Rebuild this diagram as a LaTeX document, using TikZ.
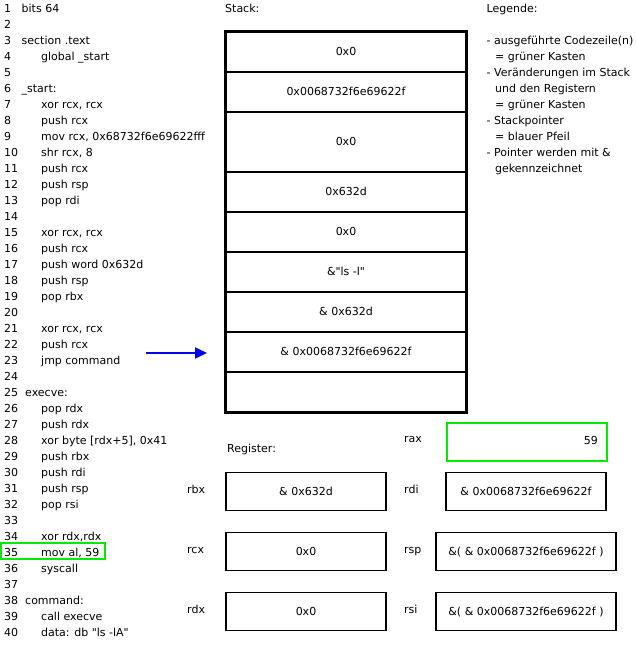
\documentclass[tikz,border=0pt]{standalone}
\usepackage{fontspec}
\setmainfont{DejaVu Sans}[Ligatures=TeXOff]
\usetikzlibrary{arrows.meta}
\definecolor{hlgreen}{RGB}{0,235,0}
\definecolor{ptrblue}{RGB}{0,0,240}
\begin{document}
\begin{tikzpicture}[x=1pt,y=-1pt,
  font=\fontsize{11}{13}\selectfont,
  txt/.style={anchor=base west,inner sep=0pt},
  txtr/.style={anchor=base east,inner sep=0pt},
  cell/.style={draw=black,line width=1.5pt,minimum width=240pt,inner sep=0pt,text height=8pt,text depth=1pt},
  reg/.style={draw=black,line width=1.8pt,minimum height=38pt,inner sep=0pt,text height=8pt,text depth=1pt},
  hlbox/.style={draw=hlgreen,line width=1.8pt,inner sep=0pt}]
\useasboundingbox (0,0) rectangle (636,655);
\clip (0,0) rectangle (636,655);
% line numbers
\foreach \n in {1,...,40}{
  \node[txt] (num\n) at (4,{12.8+16*(\n-1)}) {\n};
}
% code text
\node[txt] (c1) at (21.5,12.8) {bits 64};
\node[txt] (c3) at (21.5,44.8) {section .text};
\node[txt] (c4) at (41,60.8) {global \_start};
\node[txt] (c6) at (21.5,92.8) {\_start:};
\node[txt] (c7) at (41,108.8) {xor rcx, rcx};
\node[txt] (c8) at (41,124.8) {push rcx};
\node[txt] (c9) at (41,140.8) {mov rcx, 0x68732f6e69622fff};
\node[txt] (c10) at (41,156.8) {shr rcx, 8};
\node[txt] (c11) at (41,172.8) {push rcx};
\node[txt] (c12) at (41,188.8) {push rsp};
\node[txt] (c13) at (41,204.8) {pop rdi};
\node[txt] (c15) at (41,236.8) {xor rcx, rcx};
\node[txt] (c16) at (41,252.8) {push rcx};
\node[txt] (c17) at (41,268.8) {push word 0x632d};
\node[txt] (c18) at (41,284.8) {push rsp};
\node[txt] (c19) at (41,300.8) {pop rbx};
\node[txt] (c21) at (41,332.8) {xor rcx, rcx};
\node[txt] (c22) at (41,348.8) {push rcx};
\node[txt] (c23) at (41,364.8) {jmp command};
\node[txt] (c25) at (25,396.8) {execve:};
\node[txt] (c26) at (41,412.8) {pop rdx};
\node[txt] (c27) at (41,428.8) {push rdx};
\node[txt] (c28) at (41,444.8) {xor byte [rdx+5], 0x41};
\node[txt] (c29) at (41,460.8) {push rbx};
\node[txt] (c30) at (41,476.8) {push rdi};
\node[txt] (c31) at (41,492.8) {push rsp};
\node[txt] (c32) at (41,508.8) {pop rsi};
\node[txt] (c34) at (41,540.8) {xor rdx,rdx};
\node[txt] (c35) at (41,556.8) {mov al, 59};
\node[txt] (c36) at (41,572.8) {syscall};
\node[txt] (c38) at (25,604.8) {command:};
\node[txt] (c39) at (41,620.8) {call execve};
\node[txt] (c40) at (41,636.8) {data: db "ls -lA"};
% highlight of executed line
\node[hlbox,minimum width=104pt,minimum height=16pt] (hl) at (53,551) {};
% stack
\node[txt] (stacktitle) at (225,12.8) {Stack:};
\node[cell,minimum height=40pt] (s1) at (346,52) {0x0};
\node[cell,minimum height=40pt] (s2) at (346,92) {0x0068732f6e69622f};
\node[cell,minimum height=60pt] (s3) at (346,142) {0x0};
\node[cell,minimum height=40pt] (s4) at (346,192) {0x632d};
\node[cell,minimum height=40pt] (s5) at (346,232) {0x0};
\node[cell,minimum height=40pt] (s6) at (346,272) {\&"ls -l"};
\node[cell,minimum height=40pt] (s7) at (346,312) {\& 0x632d};
\node[cell,minimum height=40pt] (s8) at (346,352) {\& 0x0068732f6e69622f};
\node[cell,minimum height=40pt] (s9) at (346,392) {};
\draw[line width=2pt] (s1.north west) rectangle (s9.south east);
% stack pointer arrow
\coordinate (spA) at (146,353);
\coordinate (spB) at (207,353);
\draw[ptrblue,line width=2pt,-{Triangle[length=12pt,width=11pt]}] (spA) -- (spB);
% legend
\node[txt] (leg0) at (486.5,12.8) {Legende:};
\node[txt] (leg1) at (486.5,44.8) {- ausgeführte Codezeile(n)};
\node[txt] (leg2) at (495,60.8) {= grüner Kasten};
\node[txt] (leg3) at (486.5,76.8) {- Veränderungen im Stack};
\node[txt] (leg4) at (495,92.8) {und den Registern};
\node[txt] (leg5) at (495,108.8) {= grüner Kasten};
\node[txt] (leg6) at (486.5,124.8) {- Stackpointer};
\node[txt] (leg7) at (495,140.8) {= blauer Pfeil};
\node[txt] (leg8) at (486.5,156.8) {- Pointer werden mit \&};
\node[txt] (leg9) at (495,172.8) {gekennzeichnet};
% registers
\node[txt] (regtitle) at (227,452) {Register:};
\node[reg,draw=hlgreen,minimum width=160pt] (rax) at (527,442) {};
\node[txtr] (raxval) at (598,444.5) {59};
\node[txt] (raxl) at (404,442) {rax};
\node[reg,minimum width=160pt] (rbx) at (306,491.5) {\& 0x632d};
\node[txt] (rbxl) at (187,493.5) {rbx};
\node[reg,minimum width=160pt] (rdi) at (526,491.5) {\& 0x0068732f6e69622f};
\node[txt] (rdil) at (404,493.5) {rdi};
\node[reg,minimum width=160pt] (rcx) at (306,551.5) {0x0};
\node[txt] (rcxl) at (187,553.5) {rcx};
\node[reg,minimum width=180pt] (rsp) at (526,551.5) {\&( \& 0x0068732f6e69622f )};
\node[txt] (rspl) at (404,553.5) {rsp};
\node[reg,minimum width=160pt] (rdx) at (306,611.5) {0x0};
\node[txt] (rdxl) at (187,613.5) {rdx};
\node[reg,minimum width=180pt] (rsi) at (526,611.5) {\&( \& 0x0068732f6e69622f )};
\node[txt] (rsil) at (404,613.5) {rsi};
\end{tikzpicture}
\end{document}
